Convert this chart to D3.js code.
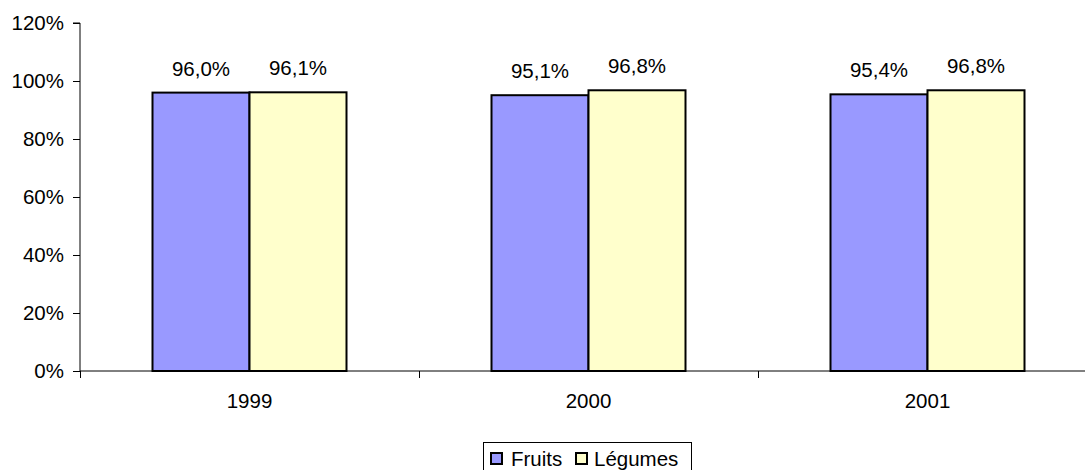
<!DOCTYPE html>
<html><head><meta charset="utf-8">
<script src="https://cdn.jsdelivr.net/npm/d3@7"></script>
<style>body{margin:0;background:#fff}svg{display:block}text{font-family:"Liberation Sans",Arial,sans-serif;fill:#000}</style>
</head><body><svg id="c" width="1085" height="470"></svg>
<script>
const categories = ["1999","2000","2001"];
const seriesNames = ["Fruits","Légumes"];
const fruits = [96.0, 95.1, 95.4];
const legumes = [96.1, 96.8, 96.8];
const yTicks = [0,20,40,60,80,100,120];
const colors = ["#9999FF","#FFFFCC"];

const svg = d3.select("#c");
const x0 = 80, x1 = 80 + 339*3;
const x = d3.scaleBand().domain(categories).range([x0, x1]).paddingInner(0).paddingOuter(0);
const xs = d3.scaleBand().domain(seriesNames).range([72.5, 339-72.5]);
const y = d3.scaleLinear().domain([0,120]).range([371, 23]);
const fmt = v => v.toFixed(1).replace(".", ",") + "%";

// y axis
const ya = svg.append("g").attr("transform",`translate(${x0},0)`)
  .call(d3.axisLeft(y).tickValues(yTicks).tickSize(7).tickPadding(9).tickFormat(d=>d+"%"));
ya.select(".domain").attr("stroke","#000").attr("d",`M-7,${y(120)}H0V${y(0)}`);
ya.selectAll("text").style("font-size","20.5px").attr("font-family","Liberation Sans, Arial, sans-serif");

// bars
const data = categories.map((c,i)=>({c, vals:[fruits[i], legumes[i]]}));
const g = svg.append("g");
data.forEach(d=>{
  d.vals.forEach((v,j)=>{
    const bx = x(d.c) + xs(seriesNames[j]);
    g.append("rect").attr("x",bx).attr("y",y(v)).attr("width",xs.bandwidth()).attr("height",y(0)-y(v))
      .attr("fill",colors[j]).attr("stroke","#000").attr("stroke-width",2);
    g.append("text").attr("x",bx+xs.bandwidth()/2).attr("y",y(v)-17).attr("text-anchor","middle")
      .style("font-size","20.5px").text(fmt(v));
  });
});

// x axis
const xa = svg.append("g").attr("transform",`translate(0,${y(0)})`);
xa.append("line").attr("x1",x0).attr("x2",x1).attr("stroke","#000");
categories.forEach((c,i)=>{
  const tx = x0 + 339*i;
  xa.append("line").attr("x1",tx+0.5).attr("x2",tx+0.5).attr("y1",0).attr("y2",7).attr("stroke","#000");
  xa.append("text").attr("x",x(c)+x.bandwidth()/2).attr("y",37).attr("text-anchor","middle").style("font-size","20.5px").text(c);
});

// legend
const lg = svg.append("g");
lg.append("rect").attr("x",483.5).attr("y",442.5).attr("width",208).attr("height",40).attr("fill","#fff").attr("stroke","#000");
const lx = [491, 576];
const tx = [511, 594];
seriesNames.forEach((s,j)=>{
  lg.append("rect").attr("x",lx[j]).attr("y",453).attr("width",11).attr("height",11).attr("fill",colors[j]).attr("stroke","#000").attr("stroke-width",2);
  lg.append("text").attr("x",tx[j]).attr("y",466).style("font-size","20.5px").text(s);
});
</script></body></html>
